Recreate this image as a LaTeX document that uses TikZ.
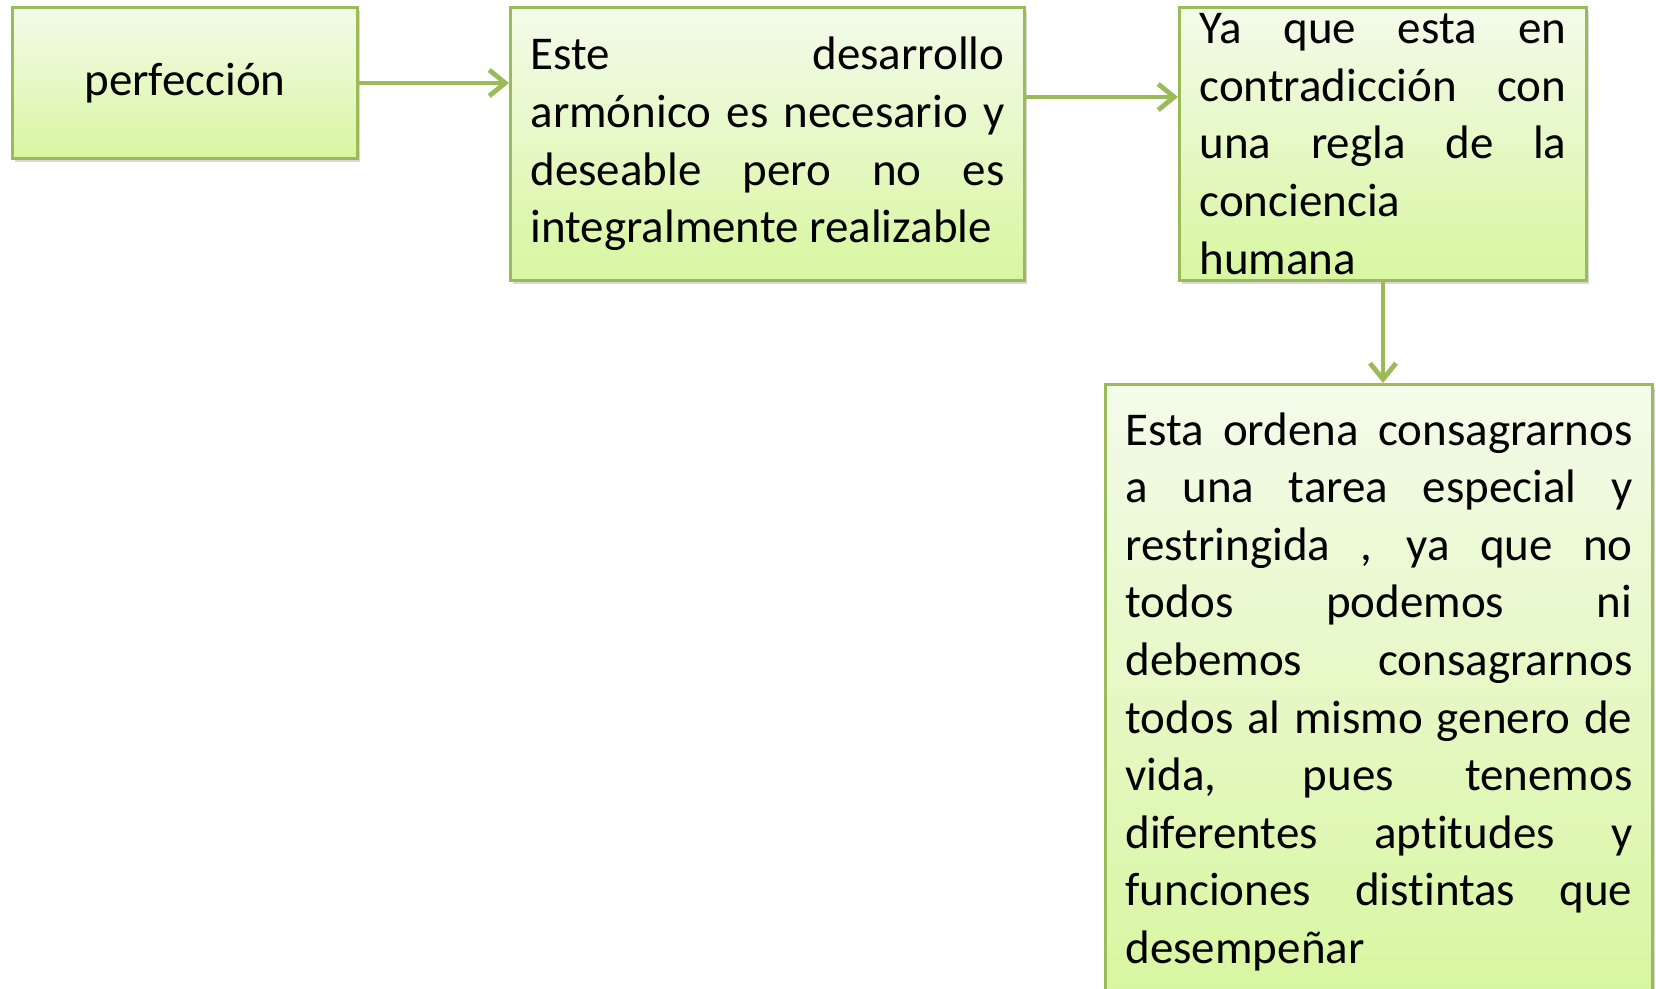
\documentclass[tikz,border=0pt]{standalone}
\usepackage{fontspec}
\setmainfont{Carlito}[Ligatures=NoCommon]
\usetikzlibrary{positioning,arrows.meta,shadows}

\definecolor{olivegreen}{RGB}{155,187,89}
\definecolor{paletop}{RGB}{243,251,234}
\definecolor{palebottom}{RGB}{216,246,160}

\begin{document}
\begin{tikzpicture}[
    idea/.style = {draw=olivegreen, line width=1.5pt, top color=paletop, bottom color=palebottom,
                   drop shadow={shadow xshift=1.2pt, shadow yshift=-1.8pt, opacity=0.3},
                   inner xsep=10pt, font=\fontsize{23.5pt}{28.8pt}\selectfont},
    longtext/.style = {idea, align=justify},
    link/.style = {draw=olivegreen, line width=2.4pt, -{Straight Barb[length=8pt,width=13pt]}}
  ]
  \useasboundingbox (0,0) rectangle (828pt,-494.5pt);
  \hyphenpenalty=10000 \exhyphenpenalty=10000

  \node[idea, minimum width=172.5pt, minimum height=75.5pt, anchor=north west] (perf) at (5.5pt,-3pt) {perfección};
  \node[longtext, text width=237pt, minimum height=136.5pt, right=75pt of perf.north east, anchor=north west] (desarrollo)
    {Este desarrollo\linebreak armónico es necesario y\linebreak deseable pero no es\linebreak integralmente realizable};
  \node[longtext, text width=183.5pt, minimum height=136.5pt, inner ysep=0pt, right=76pt of desarrollo.north east, anchor=north west] (conciencia)
    {Ya que esta en\linebreak contradicción con\linebreak una regla de la\linebreak conciencia\\ humana};
  \node[longtext, text width=253.5pt, inner ysep=14pt, below=50.5pt of conciencia.south, anchor=north, xshift=-2pt] (tarea)
    {Esta ordena consagrarnos\linebreak a una tarea especial y\linebreak restringida , ya que no\linebreak todos podemos ni\linebreak debemos consagrarnos\linebreak todos al mismo genero de\linebreak vida, pues tenemos\linebreak diferentes aptitudes y\linebreak funciones distintas que\linebreak desempeñar};

  \draw[link] (perf.east) -- (perf.east -| desarrollo.west);
  \draw[link] ([yshift=-45.5pt]desarrollo.north east) -- ([yshift=-45.5pt]desarrollo.north east -| conciencia.west);
  \draw[link] (conciencia.south) -- (conciencia.south |- tarea.north);
\end{tikzpicture}
\end{document}
